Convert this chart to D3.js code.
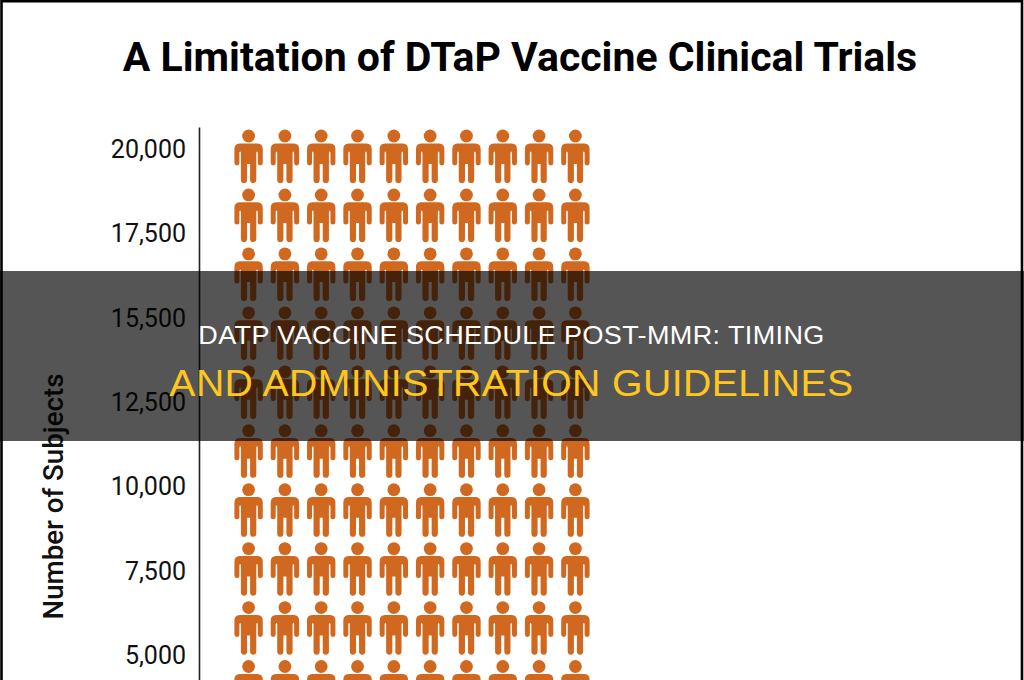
<!DOCTYPE html>
<html><head><meta charset="utf-8">
<script src="https://cdn.jsdelivr.net/npm/d3@7/dist/d3.min.js"></script>
<style>html,body{margin:0;padding:0;background:#fff}svg{display:block}</style>
</head><body><svg id="c" width="1024" height="680"></svg>
<script>
const chartTitle = "A Limitation of DTaP Vaccine Clinical Trials";
const yAxisTitle = "Number of Subjects";
const tickValues = [20000, 17500, 15000, 12500, 10000, 7500, 5000];
const tickLabels = ["20,000", "17,500", "15,500", "12,500", "10,000", "7,500", "5,000"];
const iconColumns = [1, 2, 3, 4, 5, 6, 7, 8, 9, 10];
const iconRows = [1, 2, 3, 4, 5, 6, 7, 8, 9, 10];
const bannerLines = ["DATP VACCINE SCHEDULE POST-MMR: TIMING", "AND ADMINISTRATION GUIDELINES"];

const W = 1024, H = 680;
const svg = d3.select("#c");
svg.append("rect").attr("width", W).attr("height", H).attr("fill", "#fff");

const y = d3.scaleLinear().domain([4229, 20622]).range([680, 127]);
const xIcon = d3.scalePoint().domain(iconColumns).range([248.6, 575.4]);
const yIcon = d3.scalePoint().domain(iconRows).range([136, 666.5]);

// title
svg.append("text").attr("x", 520).attr("y", 71).attr("text-anchor", "middle")
  .attr("font-family", "Roboto").attr("font-weight", 700).attr("font-size", 41)
  .attr("fill", "#000").text(chartTitle);

// axis
const axis = d3.axisLeft(y).tickValues(tickValues).tickSize(0).tickPadding(13)
  .tickFormat((d, i) => tickLabels[i]);
const gAxis = svg.append("g").attr("transform", "translate(199,0)").call(axis);
gAxis.select(".domain").attr("stroke", "#222").attr("stroke-width", 1.6);
gAxis.selectAll("text").attr("font-family", "Roboto").attr("font-size", 25).attr("fill", "#111").attr("dy", "0.38em");

svg.append("text").attr("transform", "translate(63,496.5) rotate(-90)").attr("text-anchor", "middle")
  .attr("font-family", "Roboto").attr("font-weight", 500).attr("font-size", 27.7)
  .attr("fill", "#111").text(yAxisTitle);

// person glyph, relative to head centre
const bodyPath = "M-9,7.4 H9 Q14.2,7.6 14.2,13 V27 a2.5,2.5 0 0 1 -5,0 V17 Q9.2,15.5 8.4,15.5 Q7.7,15.5 7.7,17 V44 a3.1,3.1 0 0 1 -6.2,0 V28 H-1.5 V44 a3.1,3.1 0 0 1 -6.2,0 V17 Q-7.7,15.5 -8.4,15.5 Q-9.2,15.5 -9.2,17 V27 a2.5,2.5 0 0 1 -5,0 V13 Q-14.2,7.6 -9,7.4 Z";
const cells = d3.cross(iconRows, iconColumns);
const people = svg.append("g").selectAll("g").data(cells).join("g")
  .attr("transform", d => `translate(${xIcon(d[1])},${yIcon(d[0])})`)
  .attr("fill", "#d0691f");
people.append("circle").attr("r", 6.4);
people.append("path").attr("d", bodyPath);

// frame
svg.append("path").attr("d", `M1.5,${H} V1.25 H1022 V${H}`).attr("fill", "none")
  .attr("stroke", "#000").attr("stroke-width", 2.6);

// banner
svg.append("rect").attr("x", 0).attr("y", 271).attr("width", W).attr("height", 170)
  .attr("fill", "#000").attr("fill-opacity", 0.667);
svg.append("text").attr("transform", "translate(511.5,343.5) scale(1.06,1)").attr("text-anchor", "middle")
  .attr("font-family", "Liberation Sans").attr("font-size", 25.5).attr("letter-spacing", 0.36).attr("fill", "#fff").text(bannerLines[0]);
svg.append("text").attr("transform", "translate(511.5,396) scale(1.06,1)").attr("text-anchor", "middle")
  .attr("font-family", "Liberation Sans").attr("font-size", 37).attr("letter-spacing", 0.39).attr("fill", "#ffc61e").text(bannerLines[1]);
</script></body></html>
